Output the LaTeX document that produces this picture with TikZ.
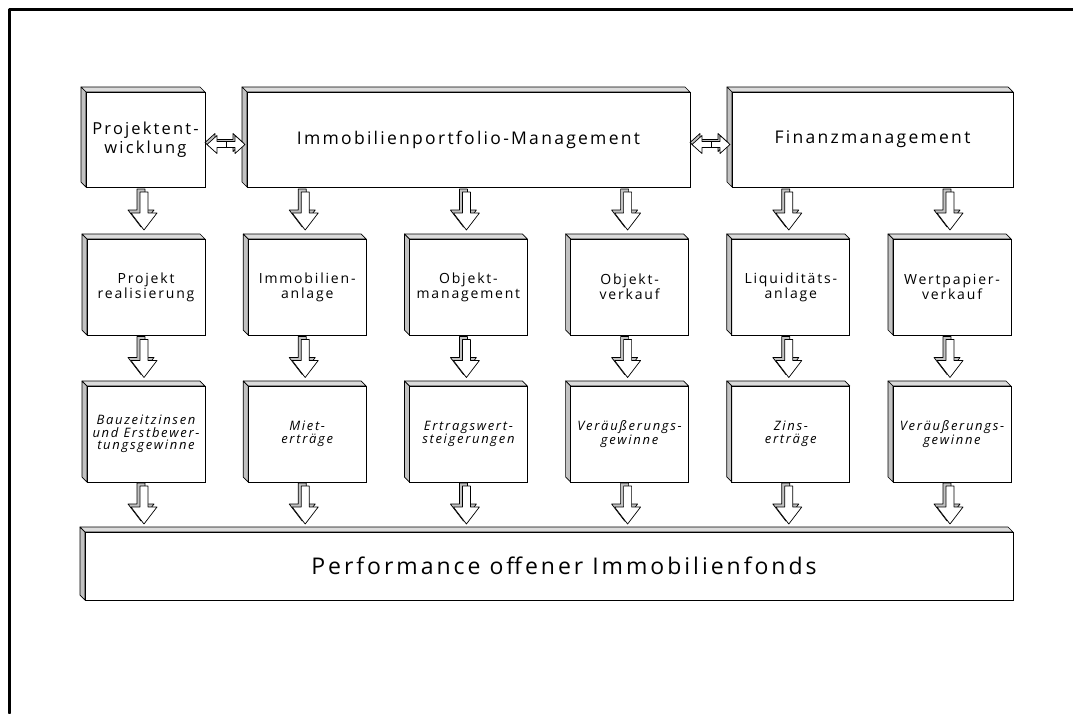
\documentclass[tikz,border=0pt]{standalone}
\usepackage{fontspec}
\usepackage{tikz}
\usetikzlibrary{calc}
\newfontfamily\boxfont{Open Sans}[LetterSpace=13]
\definecolor{ttgrau}{rgb}{0.86,0.86,0.86}
\definecolor{ssgrau}{rgb}{0.76,0.76,0.76}

\begin{document}
\begin{tikzpicture}[line cap=round,line join=round,x=1pt,y=-1pt,
  kasten/.style={draw,line width=0.9pt,fill=white,inner sep=0pt,outer sep=0pt,align=center},
  gross/.style={kasten,minimum height=95pt,font=\boxfont\fontsize{17.5}{19}\selectfont},
  mittel/.style={kasten,minimum width=118pt,minimum height=96pt,font=\boxfont\fontsize{14}{15}\selectfont},
  klein/.style={kasten,minimum width=118pt,minimum height=96pt,font=\boxfont\itshape\fontsize{13}{12.5}\selectfont},
  pfeil/.pic={
    \filldraw[line width=0.7pt,fill=ssgrau,shift={(-3,-3)}] (-4,-19) -- (-4,2) -- (-13,2) -- (0,19) -- (13,2) -- (4,2) -- (4,-19) -- cycle;
    \filldraw[line width=0.7pt,fill=white] (-4,-19) -- (-4,2) -- (-13,2) -- (0,19) -- (13,2) -- (4,2) -- (4,-19) -- cycle;
  },
  doppelpfeil/.pic={
    \filldraw[line width=0.7pt,fill=ssgrau,shift={(-2,-2)}] (-19,0) -- (-9,-9) -- (-9,-3) -- (9,-3) -- (9,-9) -- (19,0) -- (9,9) -- (9,3) -- (-9,3) -- (-9,9) -- cycle;
    \filldraw[line width=0.7pt,fill=white] (-19,0) -- (-9,-9) -- (-9,-3) -- (9,-3) -- (9,-9) -- (19,0) -- (9,9) -- (9,3) -- (-9,3) -- (-9,9) -- cycle;
    \draw[line width=0.7pt] (0,-3) -- (0,3);
  }]
\useasboundingbox (0,0) rectangle (1073,713);
\draw[line width=3pt] (9,713) -- (9,9) -- (1073,9);

\node[gross,minimum width=119pt,font=\boxfont\fontsize{16.5}{19}\selectfont] (pe) at (145.5,139.5) {Projektent-\\wicklung};
\node[gross,minimum width=443pt] (ipm) at (468.5,139.5) {Immobilienportfolio-Management};
\node[gross,minimum width=281pt] (fm) at (872.5,139.5) {Finanzmanagement};

\node[mittel] (pr) at (146,287) {Projekt\\realisierung};
\node[mittel] (ia) at (307.2,287) {Immobilien-\\anlage};
\node[mittel] (om) at (468.4,287) {Objekt-\\management};
\node[mittel] (ov) at (629.6,287) {Objekt-\\verkauf};
\node[mittel] (la) at (790.8,287) {Liquiditäts-\\anlage};
\node[mittel] (wv) at (952,287) {Wertpapier-\\verkauf};

\node[klein] (bz) at (146,434) {Bauzeitzinsen\\und Erstbewer-\\tungsgewinne};
\node[klein] (me) at (307.2,434) {Miet-\\erträge};
\node[klein] (ew) at (468.4,434) {Ertragswert-\\steigerungen};
\node[klein] (vg) at (629.6,434) {Veräußerungs-\\gewinne};
\node[klein] (ze) at (790.8,434) {Zins-\\erträge};
\node[klein] (wg) at (952,434) {Veräußerungs-\\gewinne};

\node[kasten,minimum width=928pt,minimum height=68pt,font=\boxfont\fontsize{23}{25}\selectfont] (perf) at (549,566) {\hspace*{30pt}Performance offener Immobilienfonds};

\foreach \n in {pe,ipm,fm,pr,ia,om,ov,la,wv,bz,me,ew,vg,ze,wg,perf}{
  \filldraw[line width=0.7pt,fill=ttgrau] (\n.north west) -- ++(-5,-5) -- ($(\n.north east)+(-5,-5)$) -- (\n.north east) -- cycle;
  \filldraw[line width=0.7pt,fill=ssgrau] (\n.north west) -- ++(-5,-5) -- ($(\n.south west)+(-5,-5)$) -- (\n.south west) -- cycle;
  \draw[line width=0.9pt] (\n.north west) rectangle (\n.south east);
}

\foreach \a/\b in {pe/pr,ipm/ia,ipm/om,ipm/ov,fm/la,fm/wv,pr/bz,ia/me,om/ew,ov/vg,la/ze,wv/wg}
  \pic at ($(\a.south -| \b.north)!.5!(\b.north)+(-2,-2)$) {pfeil};
\foreach \a in {bz,me,ew,vg,ze,wg}
  \pic at ($(\a.south)!.5!(\a.south |- perf.north)+(-2,-2)$) {pfeil};

\pic at ($(pe.east)!.5!(ipm.west)+(0,5)$) {doppelpfeil};
\pic at ($(ipm.east)!.5!(fm.west)+(0,5)$) {doppelpfeil};
\end{tikzpicture}
\end{document}
